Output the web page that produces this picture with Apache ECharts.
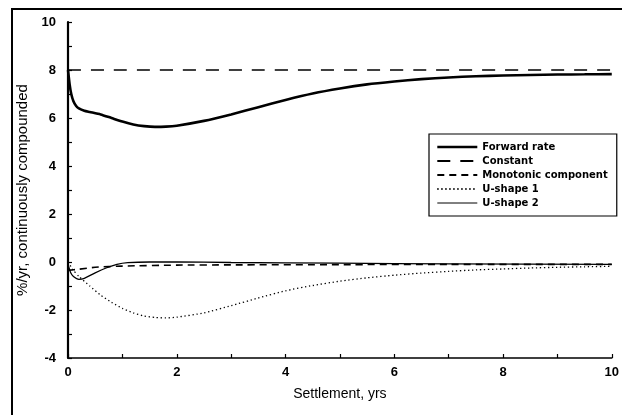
<!DOCTYPE html>
<html>
<head>
<meta charset="utf-8">
<script src="https://cdn.jsdelivr.net/npm/echarts@6/dist/echarts.min.js"></script>
<style>
  html, body { margin: 0; padding: 0; background: #fff; }
  #main { width: 622px; height: 415px; }
</style>
</head>
<body>
<div id="main"></div>
<script>
// settlement times (yrs) and read-off values, %/yr
const forwardX = [0, 0.03, 0.06, 0.1, 0.15, 0.2, 0.3, 0.4, 0.6, 0.8, 1.0, 1.2, 1.4, 1.6, 1.8, 2.0, 2.5, 3.0, 3.5, 4.0, 4.5, 5.0, 5.5, 6.0, 6.5, 7.0, 7.5, 8.0, 8.5, 9.0, 9.5, 10];
const forwardY = [8.0, 7.4, 7.0, 6.7, 6.5, 6.4, 6.3, 6.25, 6.15, 6.0, 5.85, 5.73, 5.66, 5.63, 5.64, 5.68, 5.88, 6.15, 6.45, 6.75, 7.02, 7.23, 7.4, 7.52, 7.62, 7.69, 7.74, 7.77, 7.79, 7.81, 7.82, 7.83];

const constantX = [0, 10];
const constantY = [8, 8];

const monoX = [0, 0.2, 0.5, 1.0, 2.0, 3.0, 5.0, 7.0, 10];
const monoY = [-0.35, -0.3, -0.22, -0.17, -0.13, -0.12, -0.11, -0.1, -0.1];

const u1X = [0, 0.1, 0.2, 0.4, 0.6, 0.8, 1.0, 1.2, 1.4, 1.6, 1.8, 2.0, 2.5, 3.0, 3.5, 4.0, 4.5, 5.0, 5.5, 6.0, 6.5, 7.0, 7.5, 8.0, 8.5, 9.0, 9.5, 10];
const u1Y = [0, -0.35, -0.6, -1.0, -1.38, -1.68, -1.93, -2.12, -2.25, -2.31, -2.33, -2.3, -2.12, -1.82, -1.5, -1.2, -0.98, -0.8, -0.66, -0.55, -0.46, -0.39, -0.33, -0.29, -0.25, -0.22, -0.2, -0.18];

const u2X = [0, 0.05, 0.1, 0.2, 0.3, 0.5, 0.7, 0.9, 1.1, 1.5, 2.0, 3.0, 5.0, 7.0, 10];
const u2Y = [-0.1, -0.45, -0.6, -0.72, -0.68, -0.45, -0.25, -0.1, -0.03, 0.0, 0.0, -0.02, -0.05, -0.08, -0.1];

const seriesNames = ['Forward rate', 'Constant', 'Monotonic component', 'U-shape 1', 'U-shape 2'];

function pairs(xs, ys) {
  return xs.map((x, i) => [x, ys[i]]);
}

const chart = echarts.init(document.getElementById('main'));

const axisFont = { color: '#000', fontFamily: 'Liberation Sans, Arial, sans-serif', fontWeight: 'bold', fontSize: 13 };

// all curves are black, only the dash pattern differs
const lineSeries = (name, xs, ys, style, z) => ({
  name: name,
  type: 'line',
  data: pairs(xs, ys),
  symbol: 'none',
  smooth: 0.2,
  lineStyle: Object.assign({ color: '#000' }, style),
  itemStyle: { color: '#000' },
  z: z || 2
});

const option = {
  animation: false,
  backgroundColor: '#fff',
  grid: { left: 68, right: 9, top: 22, bottom: 57 },
  graphic: [
    {
      type: 'rect',
      shape: { x: 12, y: 9, width: 640, height: 420 },
      style: { fill: 'none', stroke: '#000', lineWidth: 2 },
      silent: true
    }
  ],
  legend: {
    data: [
      { name: seriesNames[0], lineStyle: { width: 2.6 } },
      { name: seriesNames[1] },
      { name: seriesNames[2] },
      { name: seriesNames[3] },
      { name: seriesNames[4], lineStyle: { width: 1 } }
    ],
    orient: 'vertical',
    left: 429,
    top: 134,
    padding: [8, 9, 8, 7],
    itemWidth: 40,
    itemHeight: 10,
    itemGap: 4,
    backgroundColor: '#fff',
    borderColor: '#000',
    borderWidth: 1.2,
    itemStyle: { opacity: 0 },
    textStyle: { color: '#000', fontFamily: 'DejaVu Sans, sans-serif', fontWeight: 'bold', fontSize: 10 }
  },
  xAxis: {
    type: 'value',
    min: 0,
    max: 10,
    interval: 1,
    name: 'Settlement, yrs',
    nameLocation: 'middle',
    nameGap: 29,
    nameTextStyle: { color: '#000', fontFamily: 'Liberation Sans, Arial, sans-serif', fontSize: 14 },
    axisLine: { onZero: false, lineStyle: { color: '#000', width: 1.6 } },
    axisTick: { inside: true, length: 4, lineStyle: { color: '#000', width: 1.2 } },
    axisLabel: Object.assign({ margin: 8, formatter: v => (v % 2 === 0 ? String(v) : '') }, axisFont),
    splitLine: { show: false }
  },
  yAxis: {
    type: 'value',
    min: -4,
    max: 10,
    interval: 1,
    name: '%/yr, continuously compounded',
    nameLocation: 'middle',
    nameGap: 35,
    nameTextStyle: { color: '#000', fontFamily: 'Liberation Sans, Arial, sans-serif', fontSize: 15 },
    axisLine: { show: true, lineStyle: { color: '#000', width: 2.2 } },
    axisTick: { show: true, inside: true, length: 4, lineStyle: { color: '#000', width: 1.2 } },
    axisLabel: Object.assign({ margin: 12, formatter: v => (v % 2 === 0 ? String(v) : '') }, axisFont),
    splitLine: { show: false }
  },
  series: [
    lineSeries(seriesNames[0], forwardX, forwardY, { width: 2.6 }, 5),
    lineSeries(seriesNames[1], constantX, constantY, { width: 1.3, type: [13, 10] }),
    lineSeries(seriesNames[2], monoX, monoY, { width: 1.6, type: [7, 5] }),
    lineSeries(seriesNames[3], u1X, u1Y, { width: 1.3, type: [1.3, 2.7] }),
    lineSeries(seriesNames[4], u2X, u2Y, { width: 1.3 })
  ]
};

chart.setOption(option);
</script>
</body>
</html>
